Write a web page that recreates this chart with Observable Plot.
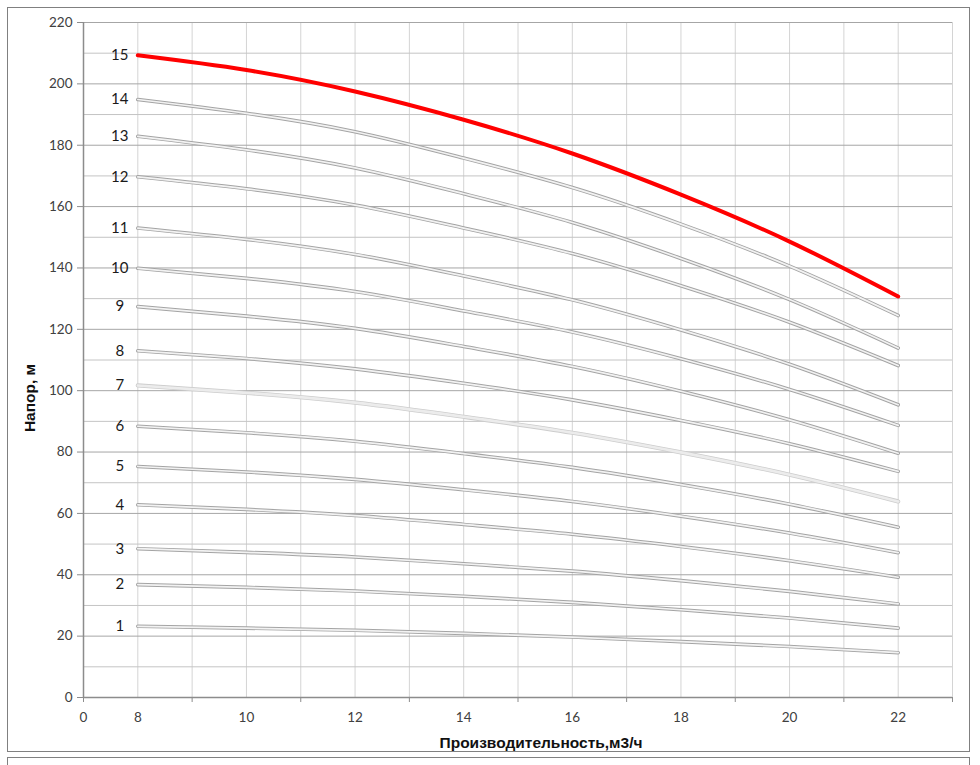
<!DOCTYPE html>
<html><head><meta charset="utf-8">
<script src="https://cdn.jsdelivr.net/npm/d3@7"></script>
<script src="https://cdn.jsdelivr.net/npm/@observablehq/plot@0.6"></script>
<style>
body{margin:0;background:#fff;}
#wrap{position:relative;width:980px;height:765px;overflow:hidden;background:#fff;}
.frame{position:absolute;border:1px solid #808080;box-sizing:border-box;}
#wrap svg{position:absolute;left:0;top:0;}
.title{position:absolute;font-weight:bold;font-family:"Liberation Sans Narrow","Liberation Sans",sans-serif;font-size:15.5px;color:#111;white-space:nowrap;line-height:1;}
</style></head><body><div id="wrap"></div>
<script>
// Flow rate, m3/h
const flow = [8, 10, 12, 14, 16, 18, 20, 22];
// Head, m — one array per number of stages
const h1  = [23.2, 22.6, 21.9, 20.9, 19.7, 18.2, 16.6, 14.6];
const h2  = [36.8, 35.9, 34.7, 33.0, 31.0, 28.6, 25.9, 22.6];
const h3  = [48.5, 47.3, 45.8, 43.6, 41.2, 38.1, 34.6, 30.5];
const h4  = [62.8, 61.3, 59.3, 56.4, 53.2, 49.2, 44.6, 39.2];
const h5  = [75.3, 73.5, 71.1, 67.7, 63.9, 59.1, 53.6, 47.2];
const h6  = [88.4, 86.3, 83.5, 79.5, 75.0, 69.4, 63.0, 55.5];
const h7  = [101.7, 99.3, 96.1, 91.5, 86.3, 79.9, 72.6, 63.9];
const h8  = [113.0, 110.5, 107.1, 102.4, 97.0, 90.3, 82.7, 73.7];
const h9  = [127.4, 124.3, 120.3, 114.4, 107.9, 99.8, 90.5, 79.6];
const h10 = [139.9, 136.6, 132.3, 126.0, 119.1, 110.4, 100.4, 88.7];
const h11 = [153.0, 149.3, 144.4, 137.4, 129.6, 119.8, 108.6, 95.4];
const h12 = [169.7, 165.8, 160.5, 153.0, 144.7, 134.2, 122.3, 108.2];
const h13 = [182.9, 178.5, 172.6, 164.2, 154.8, 143.1, 129.7, 113.9];
const h14 = [194.9, 190.4, 184.4, 175.8, 166.2, 154.3, 140.6, 124.5];
const h15 = [209.3, 204.5, 197.5, 188.3, 177.3, 163.9, 148.6, 130.7];
const stageNames = ["1","2","3","4","5","6","7","8","9","10","11","12","13","14","15"];
// x axis: broken axis, origin labelled "0" sits one step left of 8
const xOrigin = 7;
const xEnd = 23;
const xLabelValues = [7, 8, 10, 12, 14, 16, 18, 20, 22];
const xLabelTexts = ["0", "8", "10", "12", "14", "16", "18", "20", "22"];
const yTicks = [0, 20, 40, 60, 80, 100, 120, 140, 160, 180, 200, 220];
const yMinor = [10, 30, 50, 70, 90, 110, 130, 150, 170, 190, 210];
const xTitle = "Производительность,м3/ч";
const yTitle = "Напор, м";

const curves = [h1,h2,h3,h4,h5,h6,h7,h8,h9,h10,h11,h12,h13,h14,h15];
const rows = curves.flatMap((h, i) => flow.map((q, j) => ({stage: stageNames[i], idx: i + 1, q, h: h[j]})));
const grayRows = rows.filter(d => d.idx !== 15 && d.idx !== 7);
const lightRows = rows.filter(d => d.idx === 7);
const redRows = rows.filter(d => d.idx === 15);
const labelRows = curves.map((h, i) => ({q: flow[0], h: h[0], t: stageNames[i]}));
const gridX = d3.range(xOrigin + 1, xEnd + 1);
const oddTicks = d3.range(xOrigin, xEnd + 1, 2);

const chart = Plot.plot({
  width: 980, height: 765,
  marginLeft: 83, marginRight: 28, marginTop: 22, marginBottom: 68,
  style: {fontFamily: "Lato, 'Open Sans', sans-serif", fontSize: "13.5px", color: "#404040", background: "transparent"},
  x: {type: "linear", domain: [xOrigin, xEnd]},
  y: {type: "linear", domain: [0, 220]},
  marks: [
    Plot.ruleX(gridX, {stroke: "#d4d4d4", strokeWidth: 1}),
    Plot.ruleY(yMinor, {stroke: "#c4c4c4", strokeWidth: 1}),
    Plot.ruleY(yTicks, {stroke: "#a6a6a6", strokeWidth: 1}),
    Plot.ruleX([xOrigin], {stroke: "#8c8c8c", strokeWidth: 1.5}),
    Plot.ruleY([0], {stroke: "#8c8c8c", strokeWidth: 1.5}),
    Plot.axisY(yTicks, {tickSize: 6, tickPadding: 5, stroke: "#8c8c8c", label: null}),
    Plot.axisX(oddTicks, {tickSize: 5, tickFormat: () => "", stroke: "#8c8c8c", label: null}),
    Plot.axisX(xLabelValues, {tickSize: 0, tickPadding: 15, tickFormat: (d, i) => xLabelTexts[i], label: null}),
    Plot.line(grayRows, {x: "q", y: "h", z: "stage", curve: "natural", stroke: "#a4a4a4", strokeWidth: 3.6, strokeLinecap: "round"}),
    Plot.line(grayRows, {x: "q", y: "h", z: "stage", curve: "natural", stroke: "#f2f2f2", strokeWidth: 1.7, strokeLinecap: "round"}),
    Plot.line(lightRows, {x: "q", y: "h", z: "stage", curve: "natural", stroke: "#cdcdcd", strokeWidth: 4.2, strokeLinecap: "round"}),
    Plot.line(lightRows, {x: "q", y: "h", z: "stage", curve: "natural", stroke: "#ececec", strokeWidth: 2.6, strokeLinecap: "round"}),
    Plot.line(redRows, {x: "q", y: "h", curve: "natural", stroke: "#ff0000", strokeWidth: 4, strokeLinecap: "round"}),
    Plot.text(labelRows, {x: "q", y: "h", text: "t", dx: -18, dy: 0, fontSize: 15, fill: "#1a1a1a", textAnchor: "middle"})
  ]
});
const wrap = document.getElementById("wrap");
wrap.appendChild(chart);
const f1 = document.createElement("div"); f1.className = "frame";
Object.assign(f1.style, {left: "7px", top: "7px", width: "963px", height: "745px"});
const f2 = document.createElement("div"); f2.className = "frame";
Object.assign(f2.style, {left: "7px", top: "757px", width: "963px", height: "30px"});
wrap.appendChild(f1); wrap.appendChild(f2);
const tx = document.createElement("div"); tx.className = "title"; tx.textContent = xTitle;
Object.assign(tx.style, {left: "541px", top: "743px", transform: "translate(-50%,-50%)"});
const ty = document.createElement("div"); ty.className = "title"; ty.textContent = yTitle;
Object.assign(ty.style, {left: "30px", top: "398px", transform: "translate(-50%,-50%) rotate(-90deg)"});
wrap.appendChild(tx); wrap.appendChild(ty);
</script></body></html>
